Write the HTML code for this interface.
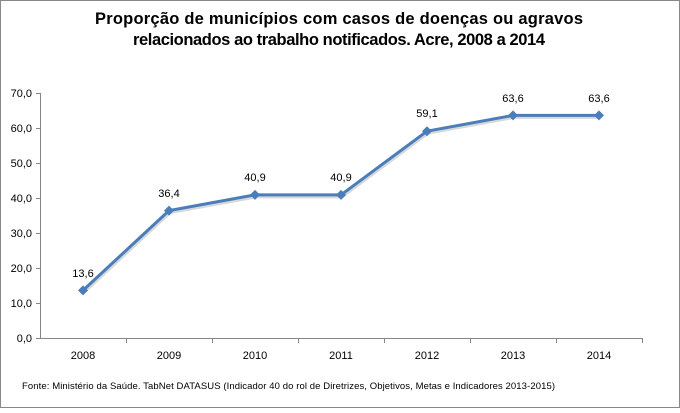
<!DOCTYPE html><html><head><style>body{margin:0;background:#fff}</style></head><body>
<svg width="680" height="408" xmlns="http://www.w3.org/2000/svg" font-family="Liberation Sans, sans-serif">
<rect x="0.5" y="0.5" width="679" height="407" fill="#fff" stroke="#888"/>
<text x="339" y="24" text-anchor="middle" font-size="16.5" font-weight="bold" fill="#000" textLength="488">Proporção de municípios com casos de doenças ou agravos</text>
<text x="339" y="45" text-anchor="middle" font-size="16.5" font-weight="bold" fill="#000" textLength="412">relacionados ao trabalho notificados. Acre, 2008 a 2014</text>
<g stroke="#868686" stroke-width="1">
<line x1="40.5" y1="93" x2="40.5" y2="338"/>
<line x1="40" y1="338.5" x2="642" y2="338.5"/>
<line x1="36" y1="93.5" x2="40" y2="93.5"/><line x1="36" y1="128.5" x2="40" y2="128.5"/><line x1="36" y1="163.5" x2="40" y2="163.5"/><line x1="36" y1="198.5" x2="40" y2="198.5"/><line x1="36" y1="233.5" x2="40" y2="233.5"/><line x1="36" y1="268.5" x2="40" y2="268.5"/><line x1="36" y1="303.5" x2="40" y2="303.5"/><line x1="36" y1="338.5" x2="40" y2="338.5"/>
<line x1="126.5" y1="338" x2="126.5" y2="343"/><line x1="212.5" y1="338" x2="212.5" y2="343"/><line x1="298.5" y1="338" x2="298.5" y2="343"/><line x1="384.5" y1="338" x2="384.5" y2="343"/><line x1="470.5" y1="338" x2="470.5" y2="343"/><line x1="556.5" y1="338" x2="556.5" y2="343"/><line x1="642.5" y1="338" x2="642.5" y2="343"/>
</g>
<g font-size="11" fill="#000" text-anchor="end">
<text x="32" y="97">70,0</text><text x="32" y="132">60,0</text><text x="32" y="167">50,0</text><text x="32" y="202">40,0</text><text x="32" y="237">30,0</text><text x="32" y="272">20,0</text><text x="32" y="307">10,0</text><text x="32" y="342">0,0</text>
</g>
<g font-size="11" fill="#000" text-anchor="middle">
<text x="83" y="359">2008</text><text x="169" y="359">2009</text><text x="255" y="359">2010</text><text x="341" y="359">2011</text><text x="427" y="359">2012</text><text x="513" y="359">2013</text><text x="599" y="359">2014</text>
<text x="83" y="277">13,6</text><text x="169" y="197">36,4</text><text x="255" y="181">40,9</text><text x="341" y="181">40,9</text><text x="427" y="117">59,1</text><text x="513" y="102">63,6</text><text x="599" y="102">63,6</text>
</g>
<polyline points="84,292.4 170,212.6 256,196.9 342,196.9 428,133.2 514,117.4 600,117.4" fill="none" stroke="#d8d8d8" stroke-width="3" stroke-linejoin="round"/>
<polyline points="83,290.4 169,210.6 255,194.9 341,194.9 427,131.2 513,115.4 599,115.4" fill="none" stroke="#4a7ebb" stroke-width="3" stroke-linejoin="round"/>
<g fill="#4a7ebb">
<path d="M83 285.4l5 5-5 5-5-5z"/><path d="M169 205.6l5 5-5 5-5-5z"/><path d="M255 189.9l5 5-5 5-5-5z"/><path d="M341 189.9l5 5-5 5-5-5z"/><path d="M427 126.2l5 5-5 5-5-5z"/><path d="M513 110.4l5 5-5 5-5-5z"/><path d="M599 110.4l5 5-5 5-5-5z"/>
</g>
<text x="22" y="389" font-size="9.5" fill="#000" textLength="533">Fonte: Ministério da Saúde. TabNet DATASUS (Indicador 40 do rol de Diretrizes, Objetivos, Metas e Indicadores 2013-2015)</text>
</svg>
</body></html>
